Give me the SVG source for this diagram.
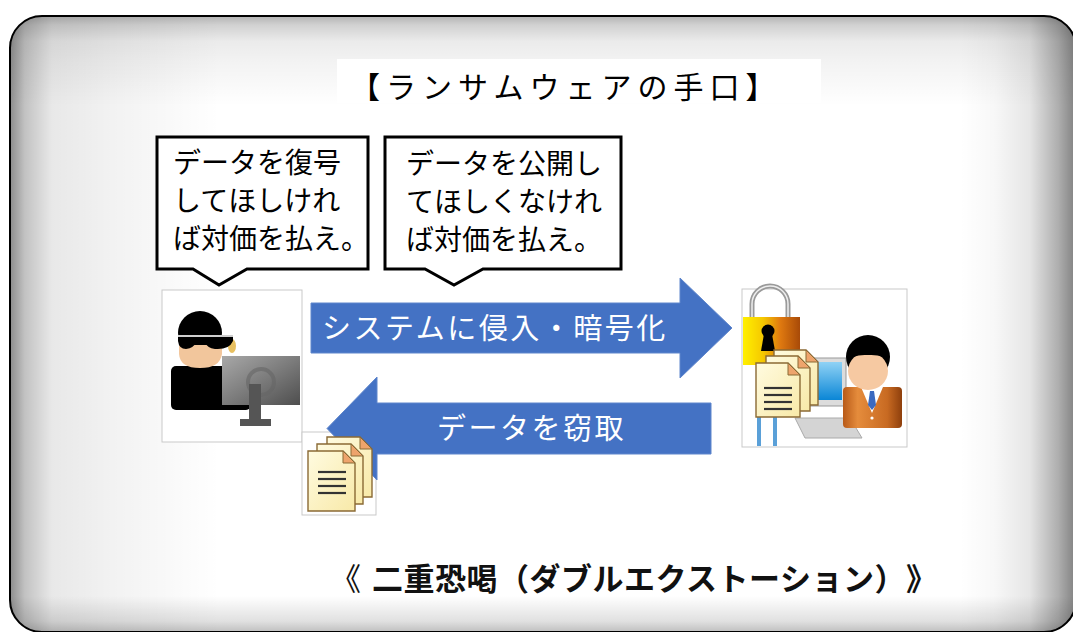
<svg xmlns="http://www.w3.org/2000/svg" width="1073" height="632" viewBox="0 0 1073 632">
  <defs>
    <style>
      .jp { font-family: "Noto Sans CJK JP", "Noto Sans CJK SC", sans-serif; }
      .title { font-size: 30px; fill: #000; letter-spacing: 6px; }
      .say { font-size: 28px; fill: #000; }
      .flow { font-size: 29px; fill: #fff; letter-spacing: 2.5px; }
      .caption { font-size: 31px; fill: #111; text-spacing-trim: space-all; }
      .bold { font-weight: bold; letter-spacing: 0.5px; }
      .bubble { fill: #fff; stroke: #000; stroke-width: 3; stroke-linejoin: miter; }
      .arrow { fill: #4472c4; stroke: #5f86cc; stroke-width: 1; }
      .photo { fill: #fff; stroke: #c9c9c9; stroke-width: 1; }
      .page { fill: url(#paper); stroke: #8a6a35; stroke-width: 1.4; }
      .fold { fill: #eea46c; stroke: #8a6a35; stroke-width: 1; }
      .rule { stroke: #333; stroke-width: 2.2; }
    </style>
    <clipPath id="frameClip">
      <rect x="10" y="16" width="1066" height="616" rx="32"/>
    </clipPath>
    <!-- soft inner shading along the frame edges -->
    <linearGradient id="shadeL" x1="0" y1="0" x2="1" y2="0">
      <stop offset="0" stop-color="#000" stop-opacity="0.45"/>
      <stop offset="0.07" stop-color="#000" stop-opacity="0.24"/>
      <stop offset="0.2" stop-color="#000" stop-opacity="0.09"/>
      <stop offset="0.5" stop-color="#000" stop-opacity="0.05"/>
      <stop offset="1" stop-color="#000" stop-opacity="0"/>
    </linearGradient>
    <linearGradient id="shadeT" x1="0" y1="0" x2="0" y2="1">
      <stop offset="0" stop-color="#000" stop-opacity="0.3"/>
      <stop offset="0.1" stop-color="#000" stop-opacity="0.18"/>
      <stop offset="0.28" stop-color="#000" stop-opacity="0.08"/>
      <stop offset="0.5" stop-color="#000" stop-opacity="0.05"/>
      <stop offset="1" stop-color="#000" stop-opacity="0"/>
    </linearGradient>
    <linearGradient id="shadeR" x1="1" y1="0" x2="0" y2="0">
      <stop offset="0" stop-color="#000" stop-opacity="0.5"/>
      <stop offset="0.15" stop-color="#000" stop-opacity="0.32"/>
      <stop offset="0.4" stop-color="#000" stop-opacity="0.1"/>
      <stop offset="0.7" stop-color="#000" stop-opacity="0.03"/>
      <stop offset="1" stop-color="#000" stop-opacity="0"/>
    </linearGradient>
    <linearGradient id="shadeB" x1="0" y1="1" x2="0" y2="0">
      <stop offset="0" stop-color="#000" stop-opacity="0.25"/>
      <stop offset="0.3" stop-color="#000" stop-opacity="0.12"/>
      <stop offset="1" stop-color="#000" stop-opacity="0"/>
    </linearGradient>
    <linearGradient id="paper" x1="0" y1="0" x2="1" y2="1">
      <stop offset="0" stop-color="#fffbe0"/>
      <stop offset="1" stop-color="#f8e9a8"/>
    </linearGradient>
    <linearGradient id="screenGrey" x1="0" y1="0" x2="1" y2="1">
      <stop offset="0" stop-color="#a8a8a8"/>
      <stop offset="0.5" stop-color="#7c7c7c"/>
      <stop offset="1" stop-color="#4e4e4e"/>
    </linearGradient>
    <linearGradient id="lockBody" x1="0" y1="0" x2="1" y2="0">
      <stop offset="0" stop-color="#fff000"/>
      <stop offset="0.35" stop-color="#f5c800"/>
      <stop offset="0.65" stop-color="#e07a10"/>
      <stop offset="1" stop-color="#a84a08"/>
    </linearGradient>
    <linearGradient id="suit" x1="0" y1="0" x2="1" y2="0">
      <stop offset="0" stop-color="#b85a18"/>
      <stop offset="0.25" stop-color="#e58c3c"/>
      <stop offset="0.75" stop-color="#c86a22"/>
      <stop offset="1" stop-color="#8e3f0c"/>
    </linearGradient>
    <linearGradient id="blueScreen" x1="0" y1="0" x2="0" y2="1">
      <stop offset="0" stop-color="#8fd2f5"/>
      <stop offset="1" stop-color="#0a86d6"/>
    </linearGradient>
  </defs>

  <!-- frame with soft shaded edges -->
  <g id="frame">
    <rect x="10" y="16" width="1066" height="616" rx="32" fill="#fff"/>
    <g clip-path="url(#frameClip)">
      <rect x="10" y="16" width="210" height="616" fill="url(#shadeL)"/>
      <rect x="10" y="16" width="1066" height="90" fill="url(#shadeT)"/>
      <rect x="960" y="16" width="116" height="616" fill="url(#shadeR)"/>
      <rect x="10" y="596" width="1066" height="36" fill="url(#shadeB)"/>
    </g>
    <rect x="10" y="16" width="1066" height="616" rx="32" fill="none" stroke="#000" stroke-width="2"/>
  </g>

  <!-- heading -->
  <g id="heading">
    <rect x="337" y="59" width="484" height="44" fill="#fff"/>
    <text class="jp title" x="350" y="98">【ランサムウェアの手口】</text>
  </g>

  <!-- speech bubbles -->
  <g id="bubble-decrypt">
    <path class="bubble" d="M157,137 H368 V269 H247 L219,285 L193,269 H157 Z"/>
    <text class="jp say">
      <tspan x="173" y="173">データを復号</tspan>
      <tspan x="173" y="211">してほしけれ</tspan>
      <tspan x="173" y="249">ば対価を払え。</tspan>
    </text>
  </g>
  <g id="bubble-leak">
    <path class="bubble" d="M385,137 H621 V269 H483 L454,285 L425,269 H385 Z"/>
    <text class="jp say">
      <tspan x="406" y="174">データを公開し</tspan>
      <tspan x="406" y="212">てほしくなけれ</tspan>
      <tspan x="406" y="250">ば対価を払え。</tspan>
    </text>
  </g>

  <!-- attacker -->
  <g id="attacker">
    <rect class="photo" x="162" y="290" width="140" height="152"/>
    <rect x="171" y="366" width="80" height="44" rx="5" fill="#000"/>
    <ellipse cx="232" cy="346" rx="4" ry="7" fill="#e8c060"/>
    <circle cx="200" cy="333" r="22" fill="#000"/>
    <path d="M179,345 H222 V354 Q220,368 200,368 Q180,368 179,354 Z" fill="#f2c69c"/>
    <rect x="178" y="335" width="55" height="2" fill="#cfcfcf"/>
    <path d="M178,337 H233 V341 Q229,350 215,349 Q207,348 205,342 H196 Q194,348 186,349 Q179,349 178,341 Z" fill="#000"/>
    <rect x="222" y="356" width="78" height="49" fill="url(#screenGrey)"/>
    <circle cx="261" cy="382" r="13" fill="none" stroke="#666" stroke-width="4" opacity="0.6"/>
    <rect x="249" y="384" width="12" height="38" fill="#555"/>
    <rect x="240" y="419" width="31" height="7" fill="#555"/>
  </g>

  <!-- stolen files backdrop -->
  <rect class="photo" x="302" y="432" width="74" height="83"/>

  <!-- flow arrows -->
  <g id="connectors">
    <g id="arrow-intrude">
      <path class="arrow" d="M311,303 H680 V278 L732,328 L680,378 V353 H311 Z"/>
      <text class="jp flow" x="322" y="339">システムに侵入・暗号化</text>
    </g>
    <g id="arrow-steal">
      <path class="arrow" d="M711,403 H377 V377 L327,428.5 L377,480 V454 H711 Z"/>
      <text class="jp flow" x="437" y="439">データを窃取</text>
    </g>
  </g>

  <!-- stolen files -->
  <g id="stolen-files">
    <path class="page" d="M327,437 H360 L372,449 V497 H327 Z"/>
    <path class="fold" d="M360,437 V449 H372 Z"/>
    <path class="page" d="M317,444 H351 L363,456 V504 H317 Z"/>
    <path class="fold" d="M351,444 V456 H363 Z"/>
    <path class="page" d="M308,451 H343 L355,463 V511 H308 Z"/>
    <path class="fold" d="M343,451 V463 H355 Z"/>
    <line class="rule" x1="318" y1="472" x2="346" y2="472"/>
    <line class="rule" x1="318" y1="479" x2="346" y2="479"/>
    <line class="rule" x1="318" y1="486" x2="346" y2="486"/>
    <line class="rule" x1="318" y1="493" x2="346" y2="493"/>
  </g>

  <!-- victim -->
  <g id="victim">
    <rect class="photo" x="742" y="289" width="165" height="158"/>
    <!-- desk computer -->
    <rect x="757" y="415" width="4" height="31" fill="#5aa0d8"/>
    <rect x="773" y="415" width="4" height="31" fill="#5aa0d8"/>
    <path d="M795,418 H850 L862,438 H805 Z" fill="#d4d4d4" stroke="#aaa" stroke-width="1"/>
    <rect x="808" y="358" width="38" height="48" fill="#dcdcdc" stroke="#999" stroke-width="1"/>
    <rect x="812" y="362" width="30" height="38" fill="url(#blueScreen)"/>
    <!-- padlock -->
    <path d="M752,318 V304 A18,18 0 0 1 788,304 V318" fill="none" stroke="#9a9a9a" stroke-width="5"/>
    <path d="M752,318 V304 A18,18 0 0 1 788,304 V318" fill="none" stroke="#eeeeee" stroke-width="1.5"/>
    <rect x="743" y="317" width="57" height="48" fill="url(#lockBody)"/>
    <circle cx="768" cy="331" r="6.5" fill="#000"/>
    <path d="M764,334 L761,351 H775 L772,334 Z" fill="#000"/>
    <!-- files -->
    <path class="page" d="M774,350 H806 L818,362 V405 H774 Z"/>
    <path class="fold" d="M806,350 V362 H818 Z"/>
    <path class="page" d="M766,356 H798 L810,368 V411 H766 Z"/>
    <path class="fold" d="M798,356 V368 H810 Z"/>
    <path class="page" d="M756,363 H788 L800,375 V417 H756 Z"/>
    <path class="fold" d="M788,363 V375 H800 Z"/>
    <line class="rule" x1="764" y1="388" x2="792" y2="388"/>
    <line class="rule" x1="764" y1="395" x2="792" y2="395"/>
    <line class="rule" x1="764" y1="402" x2="792" y2="402"/>
    <line class="rule" x1="764" y1="409" x2="792" y2="409"/>
    <!-- office worker -->
    <rect x="843" y="387" width="59" height="41" rx="4" fill="url(#suit)"/>
    <path d="M861,387 H883 L872,413 Z" fill="#fff"/>
    <path d="M870,391 H874 L876,405 L872,410 L868,405 Z" fill="#3a6ac0"/>
    <circle cx="872" cy="418" r="1.6" fill="#fff"/>
    <circle cx="868" cy="357" r="22" fill="#000"/>
    <ellipse cx="868" cy="371" rx="20" ry="19" fill="#f6c9a2"/>
    <path d="M848,362 Q852,348 868,349 Q884,348 889,362 Q884,354 868,355 Q852,354 848,362 Z" fill="#000"/>
  </g>

  <!-- caption -->
  <g id="caption">
    <text class="jp caption" x="330" y="590">《</text>
    <text class="jp caption bold" x="372" y="590">二重恐喝（ダブルエクストーション）》</text>
  </g>
</svg>
